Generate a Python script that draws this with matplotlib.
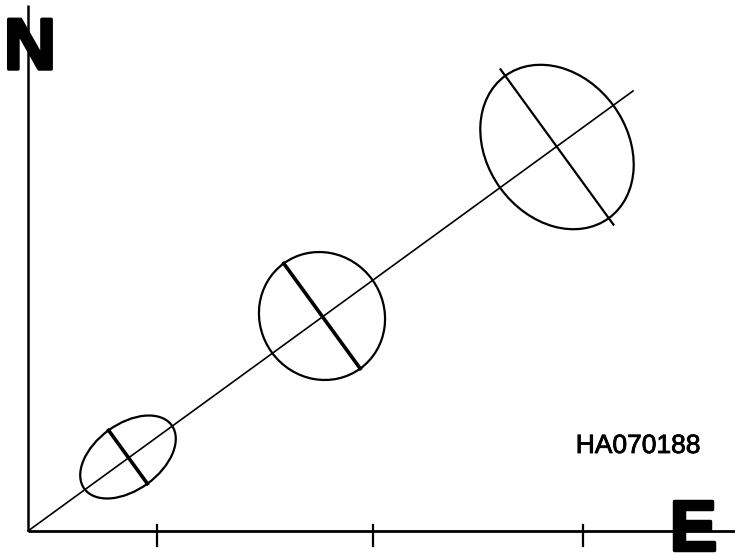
import numpy as np
import matplotlib
matplotlib.use("Agg")
import matplotlib.pyplot as plt
from matplotlib.patches import Ellipse
import matplotlib.patheffects as pe

# Error ellipses along a trend line (East / North plane)
center_e = [100, 294, 529]
center_n = [74, 215, 384]
semi_along = [54, 62, 70]      # semi-axis along the trend line
semi_across = [33, 65, 88]     # semi-axis across the trend line
cross_ext = [0, 0, 8]          # overshoot of the across line past the ellipse
cross_lw = [2.6, 2.6, 1.6]
trend_end = (605, 440)
tick_e = [129, 345, 555]
label = "HA070188"

fig = plt.figure(figsize=(7.35, 5.55), dpi=100)
ax = fig.add_axes([0, 0, 1, 1])
ax.set_xlim(-28, 707)
ax.set_ylim(-24, 531)
ax.set_aspect("auto")
ax.axis("off")

# axes
ax.plot([0, 707], [0, 0], color="black", lw=2.0, solid_capstyle="butt")
ax.plot([0, 0], [0, 526], color="black", lw=1.8, solid_capstyle="butt")
for t in tick_e:
    ax.plot([t, t], [6, -15], color="black", lw=1.6)

# trend line
ax.plot([0, trend_end[0]], [0, trend_end[1]], color="black", lw=1.2)
ang = np.degrees(np.arctan2(trend_end[1], trend_end[0]))
u = np.array([np.cos(np.radians(ang)), np.sin(np.radians(ang))])
p = np.array([-u[1], u[0]])

for e, n, a, b, ext, lw in zip(center_e, center_n, semi_along, semi_across, cross_ext, cross_lw):
    ax.add_patch(Ellipse((e, n), 2 * a, 2 * b, angle=ang, fill=False,
                         edgecolor="black", lw=1.6))
    c = np.array([e, n])
    p1 = c - p * (b + ext)
    p2 = c + p * (b + ext)
    ax.plot([p1[0], p2[0]], [p1[1], p2[1]], color="black", lw=lw)

font = ["Liberation Sans", "DejaVu Sans"]
heavy = [pe.withStroke(linewidth=2.5, foreground="black")]
ax.text(2, 462, "N", fontsize=52, fontweight="bold", family=font,
        ha="center", va="baseline", color="black", path_effects=heavy)
ax.text(665, -19, "E", fontsize=51, fontweight="bold", family=font,
        ha="center", va="baseline", color="black", path_effects=heavy)
ax.text(610, 78, label, fontsize=19, family=font, ha="center", va="baseline",
        color="black", path_effects=[pe.withStroke(linewidth=0.6, foreground="black")])

fig.savefig("out.png", dpi=100, facecolor="white")
